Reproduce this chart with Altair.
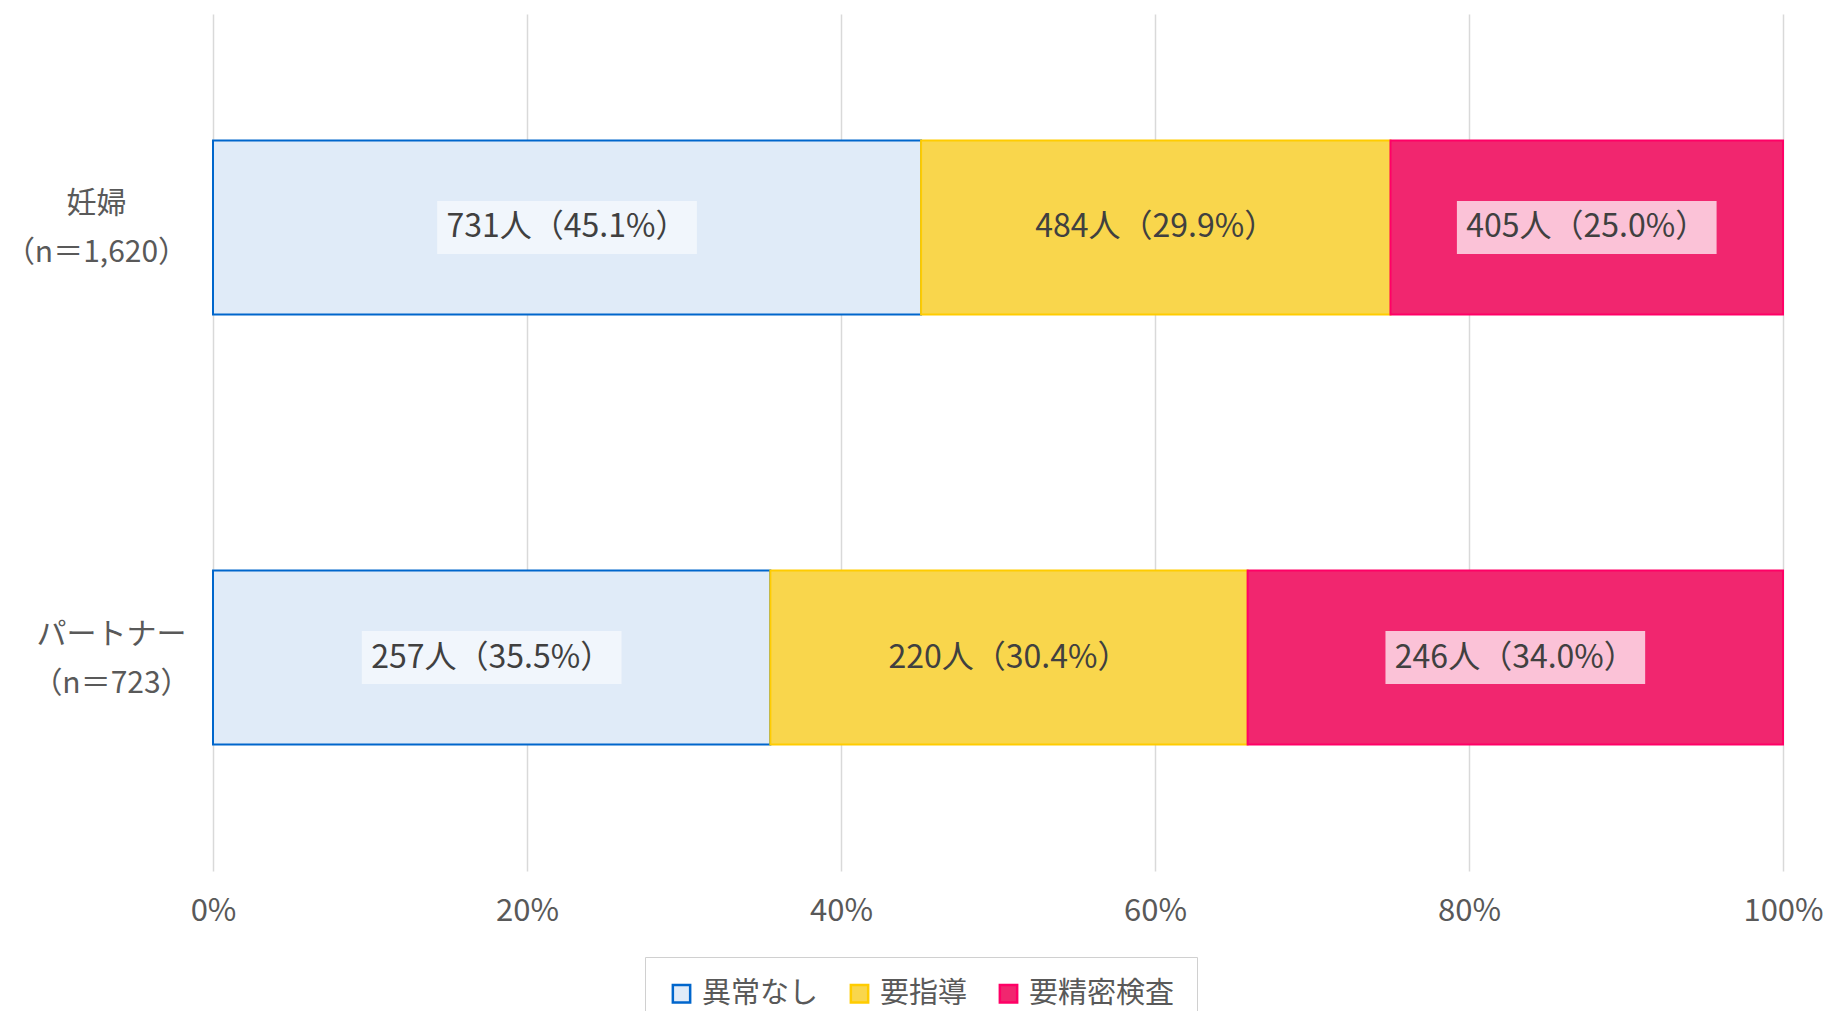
import altair as alt
import pandas as pd

groups = ["妊婦", "パートナー"]
group_labels = ["妊婦|（n＝1,620）", "パートナー|（n＝723）"]
categories = ["異常なし", "要指導", "要精密検査"]
counts = {"妊婦": [731, 484, 405], "パートナー": [257, 220, 246]}
pcts = {"妊婦": [45.1, 29.9, 25.0], "パートナー": [35.5, 30.4, 34.0]}
x_ticks = [0, 20, 40, 60, 80, 100]

fill_colors = ["#e0ebf8", "#f9d64c", "#f1266f"]
stroke_colors = ["#0066cc", "#ffcc00", "#ff0066"]
box_opacity = [0.55, 0.0, 0.72]

rows = []
for g, gl in zip(groups, group_labels):
    start = 0.0
    for i, c in enumerate(categories):
        p = pcts[g][i]
        end = start + p
        if i == len(categories) - 1:
            end = 100.0
        rows.append({
            "group": gl, "category": c, "order": i,
            "start": start, "end": end, "mid": (start + end) / 2,
            "label": f"{counts[g][i]}人（{p:.1f}%）",
            "boxop": box_opacity[i],
        })
        start = end
df = pd.DataFrame(rows)

FONT = "Noto Sans CJK JP"

y_enc = alt.Y(
    "group:N", sort=group_labels, title=None,
    scale=alt.Scale(paddingInner=0.595, paddingOuter=0.294),
    axis=alt.Axis(
        labelExpr="split(datum.label, '|')",
        labelAlign="center", labelBaseline="middle",
        labelPadding={"condition": {"test": "indexof(datum.label, '妊婦') >= 0", "value": 117}, "value": 102},
        labelOffset=-23,
        labelFont=FONT, labelFontSize=30, labelColor="#595959",
        labelLineHeight=49, ticks=False, domain=False, grid=False, labelLimit=400,
    ),
)

x_scale = alt.Scale(domain=[0, 100], nice=False)

legend_kw = dict(title=None, orient="none", legendX=432, legendY=943,
                 direction="horizontal", symbolType="square",
                 symbolSize=300, symbolStrokeWidth=2.5,
                 labelFont=FONT, labelFontSize=29, labelColor="#595959",
                 labelOffset=6, columnPadding=26, padding=22,
                 strokeColor="#d0d0d0", fillColor="white")

bars = alt.Chart(df).mark_bar(strokeWidth=2).encode(
    x=alt.X("start:Q", scale=x_scale, title=None,
            axis=alt.Axis(values=x_ticks, labelExpr="datum.value + '%'",
                          grid=True, gridColor="#d9d9d9", gridWidth=1.5,
                          domain=False, ticks=False, labelPadding=25, labelFlush=False,
                          labelFont=FONT, labelFontSize=31, labelColor="#595959")),
    x2="end:Q",
    y=y_enc,
    fill=alt.Fill("category:N", sort=categories,
                  scale=alt.Scale(domain=categories, range=fill_colors),
                  legend=alt.Legend(**legend_kw)),
    stroke=alt.Stroke("category:N", sort=categories,
                      scale=alt.Scale(domain=categories, range=stroke_colors),
                      legend=alt.Legend(**legend_kw)),
    order=alt.Order("order:Q"),
)

boxes = alt.Chart(df).mark_point(
    shape="M-2.45,-0.5H2.45V0.5H-2.45Z", filled=True, color="white", size=11236, strokeWidth=0
).encode(
    x=alt.X("mid:Q", scale=x_scale),
    y=alt.Y("group:N", sort=group_labels),
    opacity=alt.Opacity("boxop:Q", scale=None, legend=None),
)

texts = alt.Chart(df).mark_text(font=FONT, fontSize=32, color="#404040").encode(
    x=alt.X("mid:Q", scale=x_scale),
    y=alt.Y("group:N", sort=group_labels),
    text="label:N",
)

chart = alt.layer(bars, boxes, texts).properties(
    width=1570, height=857,
    autosize=alt.AutoSizeParams(type="none"),
    padding={"left": 205, "right": 42, "top": 6, "bottom": 140},
).configure_view(stroke=None)

chart.save("out.html", embed_options={"renderer": "svg", "actions": False})
